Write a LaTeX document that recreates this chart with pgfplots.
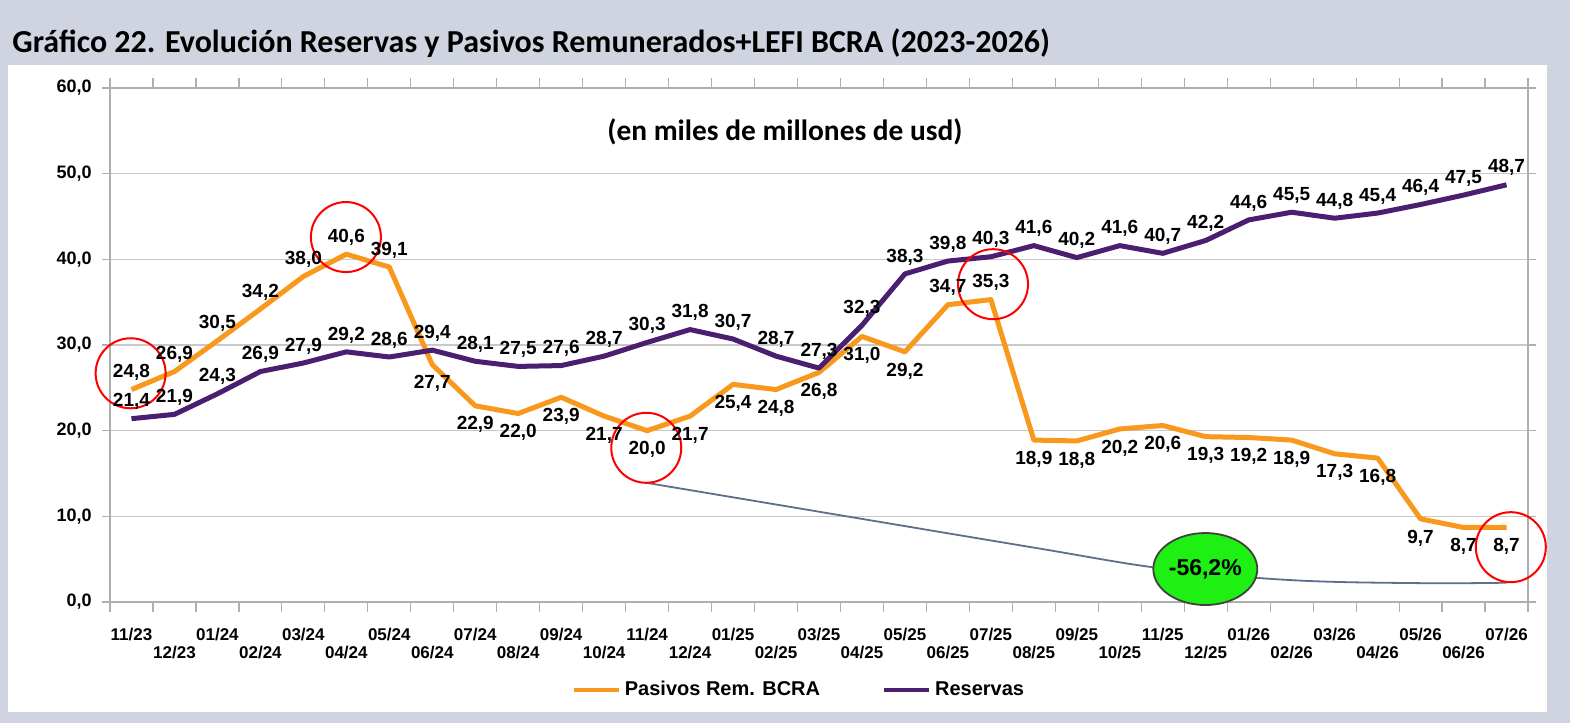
\documentclass[border=0pt]{standalone}
\usepackage{pgfplots}
\pgfplotsset{compat=1.18}
\usepackage{pgfplotstable}
\usetikzlibrary{shapes.geometric}
\usepackage{fontspec}
\setmainfont{Liberation Sans}
\newfontfamily\titlefont{Carlito}
\definecolor{bggray}{RGB}{208,212,224}
\definecolor{gridgray}{RGB}{200,200,200}
\definecolor{axgray}{RGB}{175,175,175}
\definecolor{pasorange}{RGB}{248,152,29}
\definecolor{respurple}{RGB}{75,31,111}
\definecolor{curvecol}{RGB}{95,110,140}
\definecolor{annogreen}{RGB}{30,240,20}
\newcommand\hi[1]{\strut#1}
\newcommand\lo[1]{\strut\\\strut#1}

\pgfplotstableread{
x y pos
0 24.8 8.5
1 26.9 8.5
2 30.5 8.5
3 34.2 8.5
4 38.0 8.5
5 40.6 8.5
6 39.1 8.5
7 27.7 -9.5
8 22.9 -9.5
9 22.0 -9.5
10 23.9 -9.5
11 21.7 -9.5
12 20.0 -9.5
13 21.7 -9.5
14 25.4 -9.5
15 24.8 -9.5
16 26.8 -9.5
17 31.0 -9.5
18 29.2 -9.5
19 34.7 8.5
20 35.3 8.5
21 18.9 -9.5
22 18.8 -9.5
23 20.2 -9.5
24 20.6 -9.5
25 19.3 -9.5
26 19.2 -9.5
27 18.9 -9.5
28 17.3 -9.5
29 16.8 -9.5
30 9.7 -9.5
31 8.7 -9.5
32 8.7 -9.5
}\pasivos

\pgfplotstableread{
x y pos
0 21.4 8.5
1 21.9 8.5
2 24.3 8.5
3 26.9 8.5
4 27.9 8.5
5 29.2 8.5
6 28.6 8.5
7 29.4 8.5
8 28.1 8.5
9 27.5 8.5
10 27.6 8.5
11 28.7 8.5
12 30.3 8.5
13 31.8 8.5
14 30.7 8.5
15 28.7 8.5
16 27.3 8.5
17 32.3 8.5
18 38.3 8.5
19 39.8 8.5
20 40.3 8.5
21 41.6 8.5
22 40.2 8.5
23 41.6 8.5
24 40.7 8.5
25 42.2 8.5
26 44.6 8.5
27 45.5 8.5
28 44.8 8.5
29 45.4 8.5
30 46.4 8.5
31 47.5 8.5
32 48.7 8.5
}\reservas

\begin{document}
\begin{tikzpicture}
\begin{scope}[shift={(-55pt,301pt)},x=0.5pt,y=-0.5pt]
  \path[use as bounding box, fill=bggray] (0,0) rectangle (1570,723);
  \fill[white] (8,65) rectangle (1547,712);
  \node[anchor=base west, inner sep=0pt, font=\titlefont\bfseries\fontsize{16}{19}\selectfont] at (12,53)
    {Gráfico 22. Evolución Reservas y Pasivos Remunerados+LEFI BCRA (2023-2026)};
  \node[inner sep=0pt, font=\titlefont\bfseries\fontsize{14.7}{18}\selectfont] at (785,132)
    {(en miles de millones de usd)};
\end{scope}
\begin{axis}[
  scale only axis, width=709pt, height=257pt,
  xmin=-0.5, xmax=32.5, ymin=0, ymax=60,
  clip=false,
  axis line style={axgray, line width=0.6pt},
  ymajorgrids, major grid style={gridgray, line width=0.6pt},
  tick align=outside,
  ytick={0,10,...,60},
  major tick length=4pt,
  minor tick length=5pt,
  y tick style={axgray, line width=0.6pt},
  major x tick style={draw=none},
  minor x tick style={axgray, line width=0.6pt},
  xtick={0,...,32},
  minor xtick={-0.5,0.5,...,32.5},
  xticklabels={\hi{11/23},\lo{12/23},\hi{01/24},\lo{02/24},\hi{03/24},\lo{04/24},\hi{05/24},\lo{06/24},\hi{07/24},\lo{08/24},\hi{09/24},\lo{10/24},\hi{11/24},\lo{12/24},\hi{01/25},\lo{02/25},\hi{03/25},\lo{04/25},\hi{05/25},\lo{06/25},\hi{07/25},\lo{08/25},\hi{09/25},\lo{10/25},\hi{11/25},\lo{12/25},\hi{01/26},\lo{02/26},\hi{03/26},\lo{04/26},\hi{05/26},\lo{06/26},\hi{07/26}},
  xticklabel style={align=center, anchor=north, inner sep=0pt, yshift=-8.5pt, font=\bfseries\fontsize{8.5}{9}\selectfont},
  yticklabel={\pgfmathprintnumber[fixed,fixed zerofill,precision=1,use comma]{\tick}},
  yticklabel style={anchor=east, inner sep=0pt, xshift=-5pt, font=\bfseries\fontsize{9}{10}\selectfont},
  /pgf/number format/assume math mode=true,
  nodes near coords={\pgfmathprintnumber[fixed,fixed zerofill,precision=1,use comma]{\pgfplotspointmeta}},
  visualization depends on={\thisrow{pos}\as\lpos},
  every node near coord/.append style={anchor=center, inner sep=0pt, yshift=\lpos pt, text=black, font=\bfseries\fontsize{9.5}{11}\selectfont},
  legend style={draw=none, fill=none, at={(0.4866,-0.1712)}, anchor=center, legend columns=2,
    font=\bfseries\fontsize{10}{12}\selectfont, /tikz/every even column/.append style={column sep=29pt}},
  legend cell align=left,
  legend image code/.code={\draw[#1, line width=2pt] (0pt,0pt) -- (22.5pt,0pt);},
]
\addplot[pasorange, line width=2.5pt, line join=round, mark=none] table[x=x,y=y] {\pasivos};
\addlegendentry{Pasivos Rem. BCRA}
\addplot[respurple, line width=2.5pt, line join=round, mark=none] table[x=x,y=y] {\reservas};
\addlegendentry{Reservas}
\draw[curvecol, line width=0.9pt] plot[smooth, tension=0.6] coordinates {(axis cs:12,13.9) (axis cs:17,9.7) (axis cs:21,6.35) (axis cs:24,3.9) (axis cs:27,2.55) (axis cs:30,2.2) (axis cs:32,2.25)};
\draw[red, line width=1pt] (axis cs:-0.02,26.7) circle[radius=17.5pt];
\draw[red, line width=1pt] (axis cs:4.99,42.6) circle[radius=17.5pt];
\draw[red, line width=1pt] (axis cs:11.98,18.0) circle[radius=17.5pt];
\draw[red, line width=1pt] (axis cs:20.05,37.1) circle[radius=17.5pt];
\draw[red, line width=1pt] (axis cs:32.1,6.4) circle[radius=17.5pt];
\node[ellipse, draw=darkgray, line width=0.9pt, fill=annogreen, minimum width=52pt, minimum height=36pt, inner sep=0pt, font=\bfseries\fontsize{11.5}{13}\selectfont] at (axis cs:24.99,3.85) {-56,2\%};
\end{axis}
\end{tikzpicture}
\end{document}
